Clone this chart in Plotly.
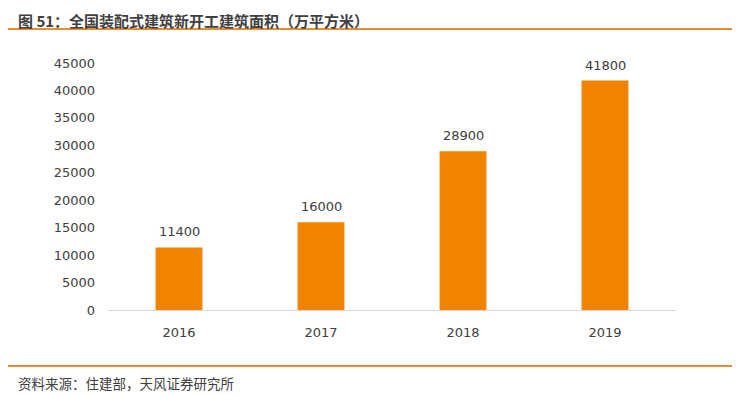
import plotly.graph_objects as go

years = ["2016", "2017", "2018", "2019"]
area = [11400, 16000, 28900, 41800]
y_ticks = [0, 5000, 10000, 15000, 20000, 25000, 30000, 35000, 40000, 45000]

title = "图 51：全国装配式建筑新开工建筑面积（万平方米）"
source = "资料来源：住建部，天风证券研究所"

font_cjk = "Microsoft YaHei, Noto Sans CJK SC, sans-serif"
font_num = "Verdana, DejaVu Sans, Noto Sans CJK SC, sans-serif"

# page body has an 8px margin; work in window pixels and offset
OFF = 8
W, H = 740 - OFF, 395 - OFF
L = 108 - OFF
T = 63 - OFF
R = W - (676 - OFF)
B = H - (310 - OFF)
pw, ph = W - L - R, H - T - B

def px(x):
    return (x - OFF - L) / pw

def py(y):
    return (H - B - (y - OFF)) / ph

fig = go.Figure()
fig.add_trace(go.Bar(
    x=years, y=area,
    marker=dict(color="#F08300", line=dict(width=0)),
    cliponaxis=False,
))

# category axis: annotations use the category index
value_labels = [
    dict(x=i, y=v, xref="x", yref="y", text=str(v),
         showarrow=False, yanchor="bottom", yshift=6,
         font=dict(family=font_num, size=13, color="#404040"))
    for i, v in enumerate(area)
]

fig.update_layout(
    width=W, height=H,
    margin=dict(l=L, r=R, t=T, b=B, autoexpand=False),
    paper_bgcolor="white", plot_bgcolor="white",
    showlegend=False,
    bargap=0.67,
    xaxis=dict(
        type="category",
        range=[-0.5, len(years) - 0.5],
        showline=True, linecolor="#D9D9D9", linewidth=1,
        ticks="", showgrid=False,
        tickfont=dict(family=font_num, size=13, color="#404040"),
        ticklabelstandoff=10,
    ),
    yaxis=dict(
        range=[0, 45000], tickvals=y_ticks,
        ticktext=[str(v) for v in y_ticks],
        showgrid=False, zeroline=False, showline=False, ticks="",
        tickfont=dict(family=font_num, size=13, color="#404040"),
        ticklabelstandoff=12,
    ),
    shapes=[
        dict(type="line", xref="paper", yref="paper",
             x0=px(8), x1=px(737), y0=py(29), y1=py(29),
             line=dict(color="#E98D35", width=2)),
        dict(type="line", xref="paper", yref="paper",
             x0=px(8), x1=px(737), y0=py(366), y1=py(366),
             line=dict(color="#E98D35", width=2)),
    ],
    annotations=value_labels + [
        dict(text="<b>" + title + "</b>", xref="paper", yref="paper",
             x=px(16), y=py(8), xanchor="left", yanchor="top",
             showarrow=False,
             font=dict(family=font_cjk, size=15, color="#404040")),
        dict(text=source, xref="paper", yref="paper",
             x=px(16), y=py(383), xanchor="left", yanchor="middle",
             showarrow=False,
             font=dict(family=font_cjk, size=13.5, color="#404040")),
    ],
)

fig.write_html("out.html")
